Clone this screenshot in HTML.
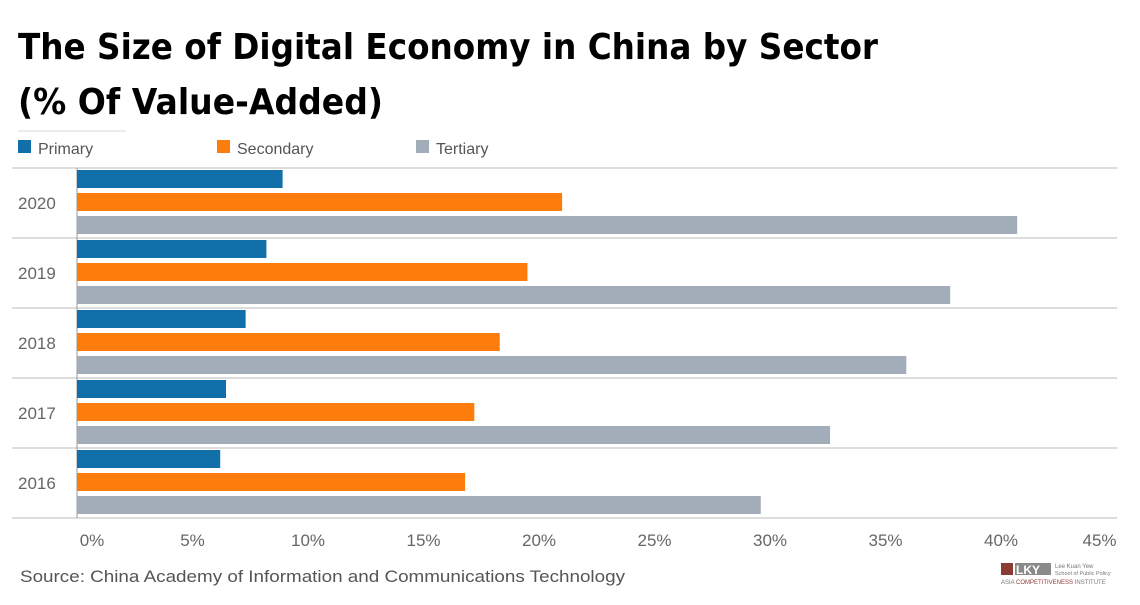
<!DOCTYPE html>
<html><head><meta charset="utf-8"><style>
body{margin:0;background:#fff;width:1140px;height:600px;overflow:hidden;font-family:"Liberation Sans","DejaVu Sans",sans-serif}
</style></head><body>
<svg width="1140" height="600" xmlns="http://www.w3.org/2000/svg">
<text x="18" y="59" font-size="36" font-weight="bold" fill="#000" font-family="DejaVu Sans, Liberation Sans, sans-serif" textLength="860" lengthAdjust="spacingAndGlyphs">The Size of Digital Economy in China by Sector</text>
<text x="18" y="114" font-size="36" font-weight="bold" fill="#000" font-family="DejaVu Sans, Liberation Sans, sans-serif" textLength="365" lengthAdjust="spacingAndGlyphs">(% Of Value-Added)</text>
<line x1="18" y1="131" x2="126" y2="131" stroke="#e8e4e0" stroke-width="1.5"/>
<g id="legend"></g>
<g id="grid"></g>
<g id="bars"></g>
<g id="axis"></g>
<text x="20" y="582" font-size="17" fill="#555" textLength="605" lengthAdjust="spacingAndGlyphs">Source: China Academy of Information and Communications Technology</text>
<g>
<rect x="1001" y="563" width="12" height="12" fill="#8b3a36"/>
<rect x="1015" y="563" width="36" height="12" fill="#8a8a8a"/>
<text x="1016" y="574" font-size="12" font-weight="bold" fill="#fff">LKY</text>
<text x="1055" y="568" font-size="6" fill="#777">Lee Kuan Yew</text>
<text x="1055" y="575" font-size="5.5" fill="#777">School of Public Policy</text>
<text x="1001" y="584" font-size="6" fill="#777">ASIA <tspan fill="#8b3a36">COMPETITIVENESS</tspan> INSTITUTE</text>
</g>
</svg>
<script>
const years=["2020","2019","2018","2017","2016"];
const primary=[8.9,8.2,7.3,6.45,6.2];
const secondary=[21.0,19.5,18.3,17.2,16.8];
const tertiary=[40.7,37.8,35.9,32.6,29.6];
const ticks=[0,5,10,15,20,25,30,35,40,45];
const seriesNames=["Primary","Secondary","Tertiary"];
const colors=["#1170aa","#fc7d0b","#a3acb9"];
const NS="http://www.w3.org/2000/svg";
const x0=77,x1=1116.5,xMax=45,plotTop=168,bandH=70;
const xs=v=>x0+(x1-x0)*v/xMax;
function mk(tag,attrs,parent){const e=document.createElementNS(NS,tag);for(const k in attrs)e.setAttribute(k,attrs[k]);parent.appendChild(e);return e;}
const leg=document.getElementById('legend'),grid=document.getElementById('grid'),bars=document.getElementById('bars'),axis=document.getElementById('axis');
const legX=[18,217,416];
seriesNames.forEach((n,i)=>{
 const r=mk('rect',{x:legX[i],y:140,width:13,height:13,fill:colors[i]},leg);
 
 
 const t=mk('text',{x:legX[i]+20,y:154,'font-size':16,fill:'#555'},leg);t.textContent=n;
 
 
});
const data=[primary,secondary,tertiary];
years.forEach((y,i)=>{
 const yt=plotTop+i*bandH;
 mk('line',{x1:12,x2:1117,y1:yt,y2:yt,stroke:'#bbb','stroke-width':1},grid);
 const t=mk('text',{x:18,y:yt+41,'font-size':17,fill:'#666'},axis);t.textContent=y;
 
 
 data.forEach((s,j)=>{
  const r=mk('rect',{x:x0,y:yt+2+j*23,width:xs(s[i])-x0,height:18,fill:colors[j]},bars);
  
  
 });
});
mk('line',{x1:12,x2:1117,y1:plotTop+5*bandH,y2:plotTop+5*bandH,stroke:'#bbb','stroke-width':1},grid);
mk('line',{x1:x0,x2:x0,y1:plotTop,y2:plotTop+5*bandH,stroke:'#999','stroke-width':1},grid);
ticks.forEach((v,i)=>{
 let cx=xs(v);if(i===0)cx+=15;if(i===ticks.length-1)cx-=17;
 const t=mk('text',{x:cx,y:546,'font-size':17,fill:'#666','text-anchor':'middle'},axis);t.textContent=v+'%';
 
 
});
</script>
</body></html>
